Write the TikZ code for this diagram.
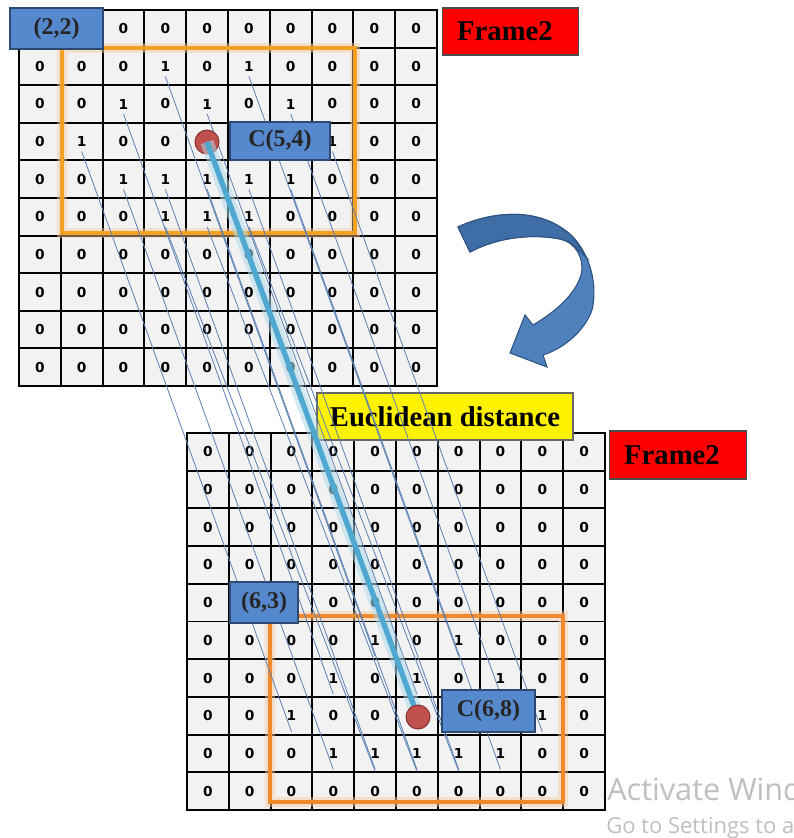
\documentclass[tikz,border=0pt]{standalone}
\usepackage{fontspec}
\setmainfont{Liberation Serif}
\newfontfamily\cellfont{DejaVu Sans}
\newfontfamily\markfont{Open Sans}
\usetikzlibrary{calc}
\definecolor{cellgray}{HTML}{F2F2F2}
\definecolor{labelblue}{HTML}{5588CC}
\definecolor{labeledge}{HTML}{2E4A73}
\definecolor{linkblue}{HTML}{5A7FB3}
\definecolor{trackblue}{HTML}{4FA8CF}
\definecolor{boxorange}{HTML}{F08A2C}
\definecolor{dotred}{HTML}{C0504D}
\definecolor{arrowblue}{HTML}{4F81BD}
\definecolor{arrowdark}{HTML}{3F6DA6}
\definecolor{arrowedge}{HTML}{2F5283}
\newcommand\cellval[1]{\if#1-\else#1\fi}
\begin{document}
\begin{tikzpicture}[x=0.75pt,y=-0.75pt,
  cell/.style={draw=black,line width=1.4pt,fill=cellgray,minimum width=31.35pt,
    minimum height=28.2pt,inner sep=0pt,font=\cellfont\bfseries\fontsize{10.3}{12}\selectfont},
  bluelabel/.style={draw=labeledge,line width=0.8pt,fill=labelblue,inner sep=0pt,
    text=black!85,font=\bfseries\fontsize{18}{20}\selectfont},
  framebox/.style={draw=black!70,line width=0.8pt,fill=red,inner ysep=0pt,inner xsep=11pt,
    align=left,font=\bfseries\fontsize{21.5}{24}\selectfont},
  notebox/.style={draw=black!60,line width=0.8pt,fill=yellow,inner sep=0pt,
    font=\bfseries\fontsize{21.5}{24}\selectfont},
  window/.style={draw=boxorange,line width=3pt},
  windowglow/.style={draw=boxorange!45,line width=7pt,opacity=0.45},
  link/.style={draw=linkblue,line width=0.6pt},
  track/.style={draw=trackblue,line width=4pt},
  trackglow/.style={draw=trackblue!45,line width=10pt,opacity=0.55},
  dot/.style={circle,fill=dotred,draw=dotred!70!black,line width=0.8pt,minimum size=18pt,inner sep=0pt}]

\useasboundingbox[fill=white] (0,0) rectangle (793,838);

% upper frame grid
\foreach \row [count=\r from 0] in {
  {-,-,0,0,0,0,0,0,0,0},
  {0,0,0,1,0,1,0,0,0,0},
  {0,0,1,0,1,0,1,0,0,0},
  {0,1,0,0,-,-,-,1,0,0},
  {0,0,1,1,1,1,1,0,0,0},
  {0,0,0,1,1,1,0,0,0,0},
  {0,0,0,0,0,0,0,0,0,0},
  {0,0,0,0,0,0,0,0,0,0},
  {0,0,0,0,0,0,0,0,0,0},
  {0,0,0,0,0,0,0,0,0,0}}{
  \foreach \v [count=\c from 0] in \row {
    \node[cell] (t-\r-\c) at ({19+41.8*(\c+0.5)},{10+37.6*(\r+0.5)}) {\cellval{\v}};
  }
}

% lower frame grid
\foreach \row [count=\r from 0] in {
  {0,0,0,0,0,0,0,0,0,0},
  {0,0,0,0,0,0,0,0,0,0},
  {0,0,0,0,0,0,0,0,0,0},
  {0,0,0,0,0,0,0,0,0,0},
  {0,-,-,0,0,0,0,0,0,0},
  {0,0,0,0,1,0,1,0,0,0},
  {0,0,0,1,0,1,0,1,0,0},
  {0,0,1,0,0,-,-,-,1,0},
  {0,0,0,1,1,1,1,1,0,0},
  {0,0,0,0,0,0,0,0,0,0}}{
  \foreach \v [count=\c from 0] in \row {
    \node[cell] (b-\r-\c) at ({187+41.8*(\c+0.5)},{433+37.7*(\r+0.5)}) {\cellval{\v}};
  }
}

% search windows
\draw[windowglow] (62,48) rectangle (355,233);
\draw[window,draw=boxorange!80!yellow] (62,48) rectangle (355,233);
\draw[windowglow] (270,616) rectangle (563,802);
\draw[window] (270,616) rectangle (563,802);

% distance caption
\node[notebox,minimum width=192pt,minimum height=35.25pt] (dist) at (445,416.5) {Euclidean distance};

% pixel correspondences
\foreach \r/\c in {1/3,1/5,2/2,2/4,2/6,3/1,3/7,4/2,4/3,4/4,4/5,4/6}{
  \pgfmathtruncatemacro\rr{\r+4}
  \pgfmathtruncatemacro\cc{\c+1}
  \draw[link] ($(t-\r-\c)+(0,10)$) -- ($(b-\rr-\cc)+(0,16)$);
}
\foreach \c in {3,4,5}{
  \pgfmathtruncatemacro\cc{\c+1}
  \draw[link] ($(t-5-\c)+(0,10)$) -- ($(b-9-\cc)+(0,-20)$);
}

% centroid track
\node[dot] (dotA) at (207,142) {};
\draw[trackglow] (dotA.center) -- (418,717) coordinate (endB);
\draw[track] (dotA.center) -- (endB);
\node[dot] (dotB) at (endB) {};

% labels
\node[bluelabel,minimum width=69.75pt,minimum height=30.75pt] (p22) at (56.5,28.5) {(2,2)};
\node[bluelabel,minimum width=75pt,minimum height=28.5pt] (c54) at (280,141) {C(5,4)};
\node[bluelabel,minimum width=51pt,minimum height=30.75pt] (p63) at (264,602.5) {(6,3)};
\node[bluelabel,minimum width=69.75pt,minimum height=31.5pt] (c68) at (488.5,711) {C(6,8)};

\node[framebox,anchor=west,text width=80pt,minimum height=35.25pt] (f1) at (442,31.5) {Frame2};
\node[framebox,anchor=west,text width=81pt,minimum height=36pt] (f2) at (609,455) {Frame2};

% curved arrow between frames
\fill[arrowblue,draw=arrowedge,line width=0.8pt]
  (458,227) .. controls (490,212) and (540,205) .. (573,237)
  .. controls (590,255) and (598,285) .. (592,310)
  .. controls (585,330) and (565,348) .. (543,355)
  -- (547,367) -- (510,353) -- (525,315) -- (533,325)
  .. controls (555,312) and (575,295) .. (581,275)
  .. controls (585,258) and (575,242) .. (560,239)
  .. controls (535,234) and (500,236) .. (470,252) -- cycle;
\fill[arrowdark,draw=arrowedge,line width=0.8pt]
  (458,227) .. controls (490,212) and (540,205) .. (573,237)
  -- (587,258) -- (578,250)
  .. controls (572,243) and (566,240) .. (560,239)
  .. controls (535,234) and (500,236) .. (470,252) -- cycle;

% system watermark
\begin{scope}
\clip (0,0) rectangle (793,838);
\node[anchor=base west,inner sep=0pt,text=black!25,font=\markfont\fontsize{23}{26}\selectfont] (wm1) at (607,800) {Activate Windows};
\node[anchor=base west,inner sep=0pt,text=black!25,font=\markfont\fontsize{16.5}{19}\selectfont] (wm2) at (606,833) {Go to Settings to activate Windows.};
\end{scope}
\end{tikzpicture}
\end{document}
